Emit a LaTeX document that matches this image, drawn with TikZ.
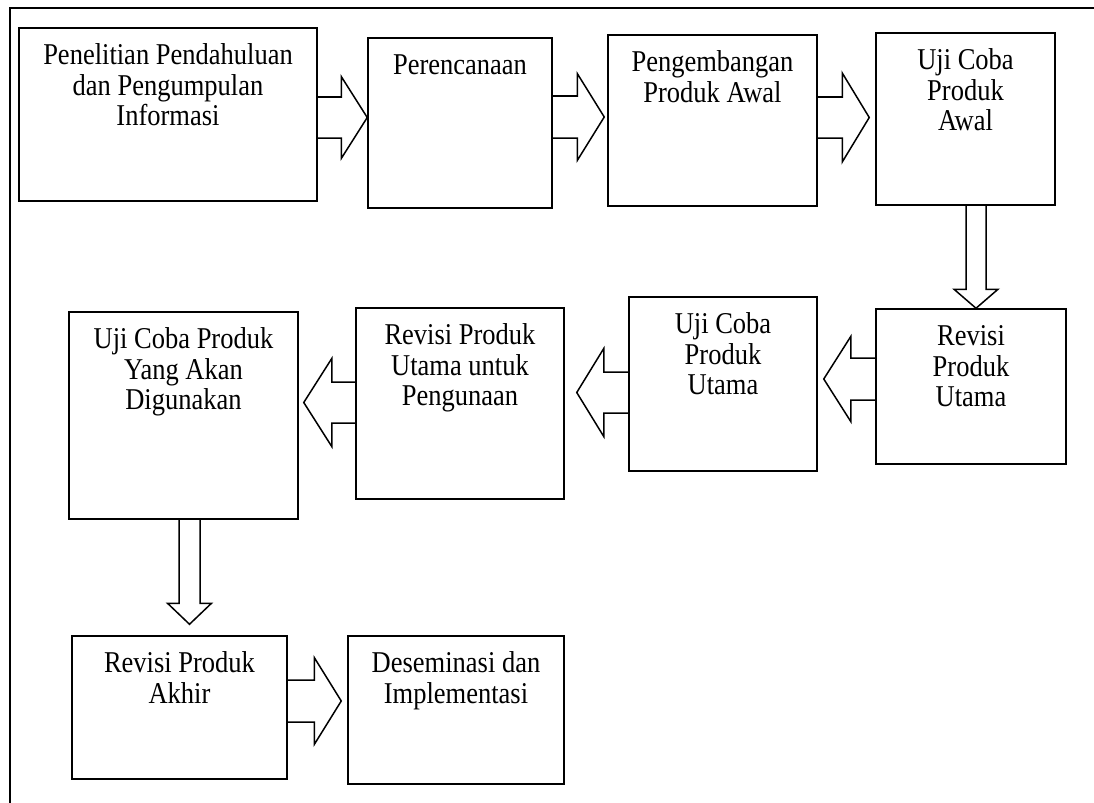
\documentclass[tikz,border=0pt]{standalone}
\usepackage{fontspec}
\setmainfont{Liberation Serif}
\usetikzlibrary{calc}
\tikzset{
  box/.style={draw, line width=1.5bp, inner sep=0pt, rectangle},
  txt/.style={inner sep=0pt, align=center, anchor=north, yscale=1.14, transform shape, font=\fontsize{26.5bp}{26.6bp}\selectfont},
  blk/.style={draw, line width=1.5bp, line join=miter},
  frame/.style={draw, line width=1.6bp}
}
\newcommand\bx[6]{%
  \node[box, minimum width=#4bp, minimum height=#5bp] (#1) at (#2,#3) {};
  \node[txt] (t#1) at ($(#1.north)+(0,16)$) {\strut #6};}
\newcommand\rarr[7]{\draw[blk] ($(#1.east |- 0,#3)+(0,-#4)$) -- ($(#2.west |- 0,#3)+(-#7-#6,-#4)$) -- ($(#2.west |- 0,#3)+(-#7-#6,-#5)$) -- ($(#2.west |- 0,#3)+(-#7,0)$) -- ($(#2.west |- 0,#3)+(-#7-#6,#5)$) -- ($(#2.west |- 0,#3)+(-#7-#6,#4)$) -- ($(#1.east |- 0,#3)+(0,#4)$);}
\newcommand\larr[7]{\draw[blk] ($(#1.west |- 0,#3)+(0,-#4)$) -- ($(#2.east |- 0,#3)+(#7+#6,-#4)$) -- ($(#2.east |- 0,#3)+(#7+#6,-#5)$) -- ($(#2.east |- 0,#3)+(#7,0)$) -- ($(#2.east |- 0,#3)+(#7+#6,#5)$) -- ($(#2.east |- 0,#3)+(#7+#6,#4)$) -- ($(#1.west |- 0,#3)+(0,#4)$);}
\newcommand\darr[7]{\draw[blk] ($(#1.south -| #3,0)+(-#4,0)$) -- ($(#2.north -| #3,0)+(-#4,-#7-#6)$) -- ($(#2.north -| #3,0)+(-#5,-#7-#6)$) -- ($(#2.north -| #3,0)+(0,-#7)$) -- ($(#2.north -| #3,0)+(#5,-#7-#6)$) -- ($(#2.north -| #3,0)+(#4,-#7-#6)$) -- ($(#1.south -| #3,0)+(#4,0)$);}
\begin{document}
\begin{tikzpicture}[x=1bp,y=-1bp]
\useasboundingbox (0,0) rectangle (1094,803);
\draw[frame] (10,803) -- (10,8) -- (1094,8);
\bx{b1}{168}{114.5}{298}{173}{Penelitian Pendahuluan\\dan Pengumpulan\\Informasi}
\bx{b2}{460}{123}{184}{170}{Perencanaan}
\bx{b3}{712.5}{120.5}{209}{171}{Pengembangan\\Produk Awal}
\bx{b4}{965.5}{119}{179}{172}{Uji Coba\\Produk\\Awal}
\bx{b5}{971}{386.5}{190}{155}{Revisi\\Produk\\Utama}
\bx{b6}{723}{384}{188}{174}{Uji Coba\\Produk\\Utama}
\bx{b7}{460}{403.5}{208}{191}{Revisi Produk\\Utama untuk\\Pengunaan}
\bx{b8}{183.5}{415.5}{229}{207}{Uji Coba Produk\\Yang Akan\\Digunakan}
\bx{b9}{179.5}{707.5}{215}{143}{Revisi Produk\\Akhir}
\bx{b10}{456}{710}{216}{148}{Deseminasi dan\\Implementasi}
\rarr{b1}{b2}{117.5}{20.5}{41}{26}{0}
\rarr{b2}{b3}{117}{21}{43.5}{27}{3}
\rarr{b3}{b4}{117.5}{20.5}{44.5}{27}{6}
\darr{b4}{b5}{976}{10}{22}{19}{0}
\larr{b5}{b6}{379}{21}{42.5}{27}{6}
\larr{b6}{b7}{392.5}{20.5}{44}{27}{12}
\larr{b7}{b8}{402.5}{20.5}{44}{28}{5}
\darr{b8}{b9}{189.5}{10.5}{22}{21}{11}
\rarr{b9}{b10}{701}{21}{43.5}{27}{6}
\end{tikzpicture}
\end{document}
